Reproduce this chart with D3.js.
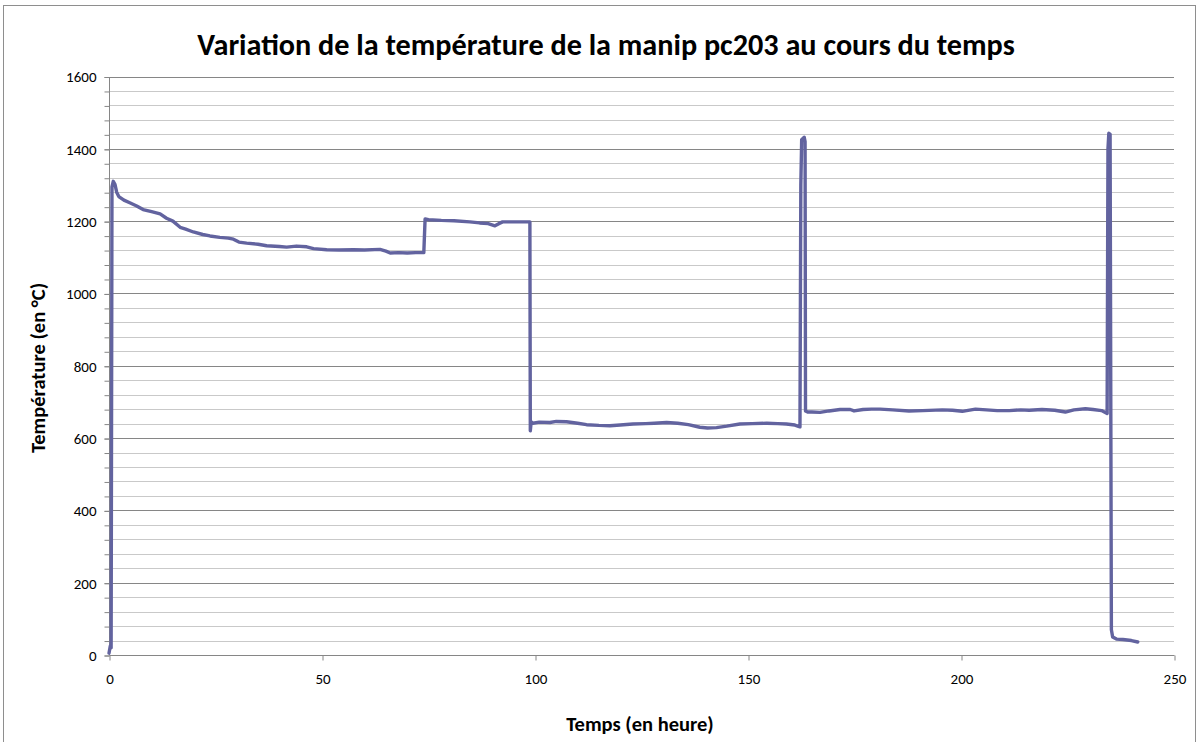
<!DOCTYPE html>
<html>
<head>
<meta charset="utf-8">
<script src="https://cdn.jsdelivr.net/npm/d3@7/dist/d3.min.js"></script>
<style>
  html, body { margin: 0; padding: 0; background: #fff; }
  svg { display: block; }
  text { font-family: Carlito, Calibri, Lato, "Open Sans", sans-serif; fill: #000; }
</style>
</head>
<body>
<svg id="chart" width="1200" height="742"></svg>
<script>
// Temps écoulé (heures)
const hours = [
  0, 0.3, 0.5, 0.7, 1.0, 1.4, 1.8, 2.3, 3.5, 5, 6.5, 8, 10, 12, 13.5, 15, 16.7, 18, 19.8, 22,
  23.7, 26, 28, 29.2, 30.5, 32.3, 35, 37, 40, 41.7, 44, 46.4, 48, 51.1, 54, 57.4, 60, 63.6, 65, 66,
  68, 70, 72, 73.9, 74.2, 75, 78, 81, 84.7, 87, 89, 90.6, 91.5, 92.4, 95, 98.8, 98.9, 99.1, 99.5, 101,
  103.5, 105, 107.4, 110, 112.1, 115, 117.6, 120, 123, 126, 128, 130.9, 133.5, 136, 138.7, 140.5, 142.6, 145, 148.1, 151,
  154.4, 157, 159, 161, 162.2, 162.4, 162.6, 163.2, 163.4, 163.5, 164, 165, 166.9, 169, 171.6, 174, 174.9, 177, 179, 181,
  184, 187.8, 191, 195.6, 198, 200.3, 203.4, 206, 208.5, 211.3, 214, 216, 219, 222, 224.5, 226.5, 229.2, 231, 233, 234.3,
  234.5, 234.7, 235.0, 235.3, 235.6, 236.5, 238, 240, 241.5
];

// Température mesurée (°C)
const temperature = [
  5, 25, 20, 1295, 1310, 1302, 1280, 1268, 1258, 1250, 1242, 1232, 1226, 1220, 1208, 1200, 1183, 1178, 1170, 1163,
  1159, 1155, 1153, 1150, 1142, 1139, 1136, 1132, 1130, 1128, 1131, 1129, 1124, 1121, 1120, 1121, 1120, 1122, 1117, 1112,
  1113, 1112, 1113, 1113, 1206, 1204, 1202, 1201, 1198, 1195, 1193, 1187, 1193, 1198, 1198, 1198, 620, 645, 641, 644,
  643, 646, 645, 641, 637, 635, 634, 636, 639, 640, 641, 643, 641, 637, 630, 628, 629, 633, 639, 640,
  641, 640, 639, 636, 631, 1300, 1425, 1432, 1420, 675, 672, 672, 671, 675, 679, 679, 675, 679, 680, 680,
  678, 675, 676, 678, 677, 674, 680, 678, 676, 676, 678, 677, 679, 677, 672, 678, 681, 679, 676, 668,
  1400, 1443, 1440, 70, 50, 44, 43, 40, 36
];

const xTickValues = [0, 50, 100, 150, 200, 250];
const yMajorTicks = [0, 200, 400, 600, 800, 1000, 1200, 1400, 1600];
const yMinorTicks = d3.range(0, 1601, 40);

const titleText = "Variation de la température de la manip pc203 au cours du temps";
const xTitle = "Temps (en heure)";
const yTitle = "Température (en °C)";

const svg = d3.select("#chart");
const plot = { left: 109, right: 1174, top: 76.5, bottom: 655 };

// Cadre extérieur du graphique
svg.append("rect")
  .attr("x", 3.5).attr("y", 5.5)
  .attr("width", 1192).attr("height", 760)
  .attr("fill", "#fff").attr("stroke", "#8e8e8e").attr("stroke-width", 1);

const x = d3.scaleLinear().domain([0, 250]).range([plot.left, plot.right]);
const y = d3.scaleLinear().domain([0, 1600]).range([plot.bottom, plot.top]);

// Grille secondaire (tous les 40 °C)
svg.append("g")
  .selectAll("line")
  .data(yMinorTicks.filter(v => v % 200 !== 0))
  .join("line")
  .attr("x1", plot.left).attr("x2", plot.right)
  .attr("y1", d => Math.round(y(d)) + 0.5).attr("y2", d => Math.round(y(d)) + 0.5)
  .attr("stroke", "#c9c9c9").attr("stroke-width", 1);

// Grille principale (tous les 200 °C)
svg.append("g")
  .selectAll("line")
  .data(yMajorTicks.filter(v => v > 0))
  .join("line")
  .attr("x1", plot.left).attr("x2", plot.right)
  .attr("y1", d => Math.round(y(d)) + 0.5).attr("y2", d => Math.round(y(d)) + 0.5)
  .attr("stroke", "#868686").attr("stroke-width", 1);

// Axe des ordonnées : graduations mineures puis principales avec libellés
const yMinorAxis = d3.axisLeft(y).tickValues(yMinorTicks).tickSize(5).tickFormat("");
const gyMinor = svg.append("g")
  .attr("transform", `translate(${plot.left + 0.5},0.5)`)
  .call(yMinorAxis);
gyMinor.select(".domain").remove();
gyMinor.selectAll(".tick line").attr("stroke", "#868686");

const yAxis = d3.axisLeft(y).tickValues(yMajorTicks).tickSize(5).tickPadding(8).tickFormat(d3.format("d"));
const gy = svg.append("g")
  .attr("transform", `translate(${plot.left + 0.5},0.5)`)
  .call(yAxis);
gy.select(".domain").attr("stroke", "#868686").attr("d", `M0,${y(1600)}V${y(0)}`);
gy.selectAll(".tick line").attr("stroke", "#868686");
gy.selectAll(".tick text")
  .style("font-size", "15px")
  .style("font-family", "Carlito, Calibri, Lato, sans-serif")
  .attr("fill", "#000");

// Axe des abscisses
const xAxis = d3.axisBottom(x).tickValues(xTickValues).tickSize(5).tickPadding(13).tickFormat(d3.format("d"));
const gx = svg.append("g")
  .attr("transform", `translate(0.5,${Math.round(y(0)) + 0.5})`)
  .call(xAxis);
gx.select(".domain").attr("stroke", "#868686").attr("d", `M${x(0)},0H${x(250)}`);
gx.selectAll(".tick line").attr("stroke", "#868686");
gx.selectAll(".tick text")
  .style("font-size", "15px")
  .style("font-family", "Carlito, Calibri, Lato, sans-serif")
  .attr("fill", "#000");

// Courbe de température
const series = hours.map((h, i) => [h, temperature[i]]);
const line = d3.line().x(d => x(d[0])).y(d => y(d[1]));
svg.append("path")
  .datum(series)
  .attr("d", line)
  .attr("fill", "none")
  .attr("stroke", "#62639f")
  .attr("stroke-width", 3.4)
  .attr("stroke-linejoin", "round")
  .attr("stroke-linecap", "round");

// Titres
svg.append("text")
  .attr("x", 606).attr("y", 55)
  .attr("text-anchor", "middle")
  .style("font-size", "30.2px").style("font-weight", "bold")
  .text(titleText);

svg.append("text")
  .attr("x", 640).attr("y", 731)
  .attr("text-anchor", "middle")
  .style("font-size", "20.5px").style("font-weight", "bold")
  .text(xTitle);

svg.append("text")
  .attr("transform", "translate(45,368) rotate(-90)")
  .attr("text-anchor", "middle")
  .style("font-size", "20.5px").style("font-weight", "bold")
  .text(yTitle);
</script>
</body>
</html>
